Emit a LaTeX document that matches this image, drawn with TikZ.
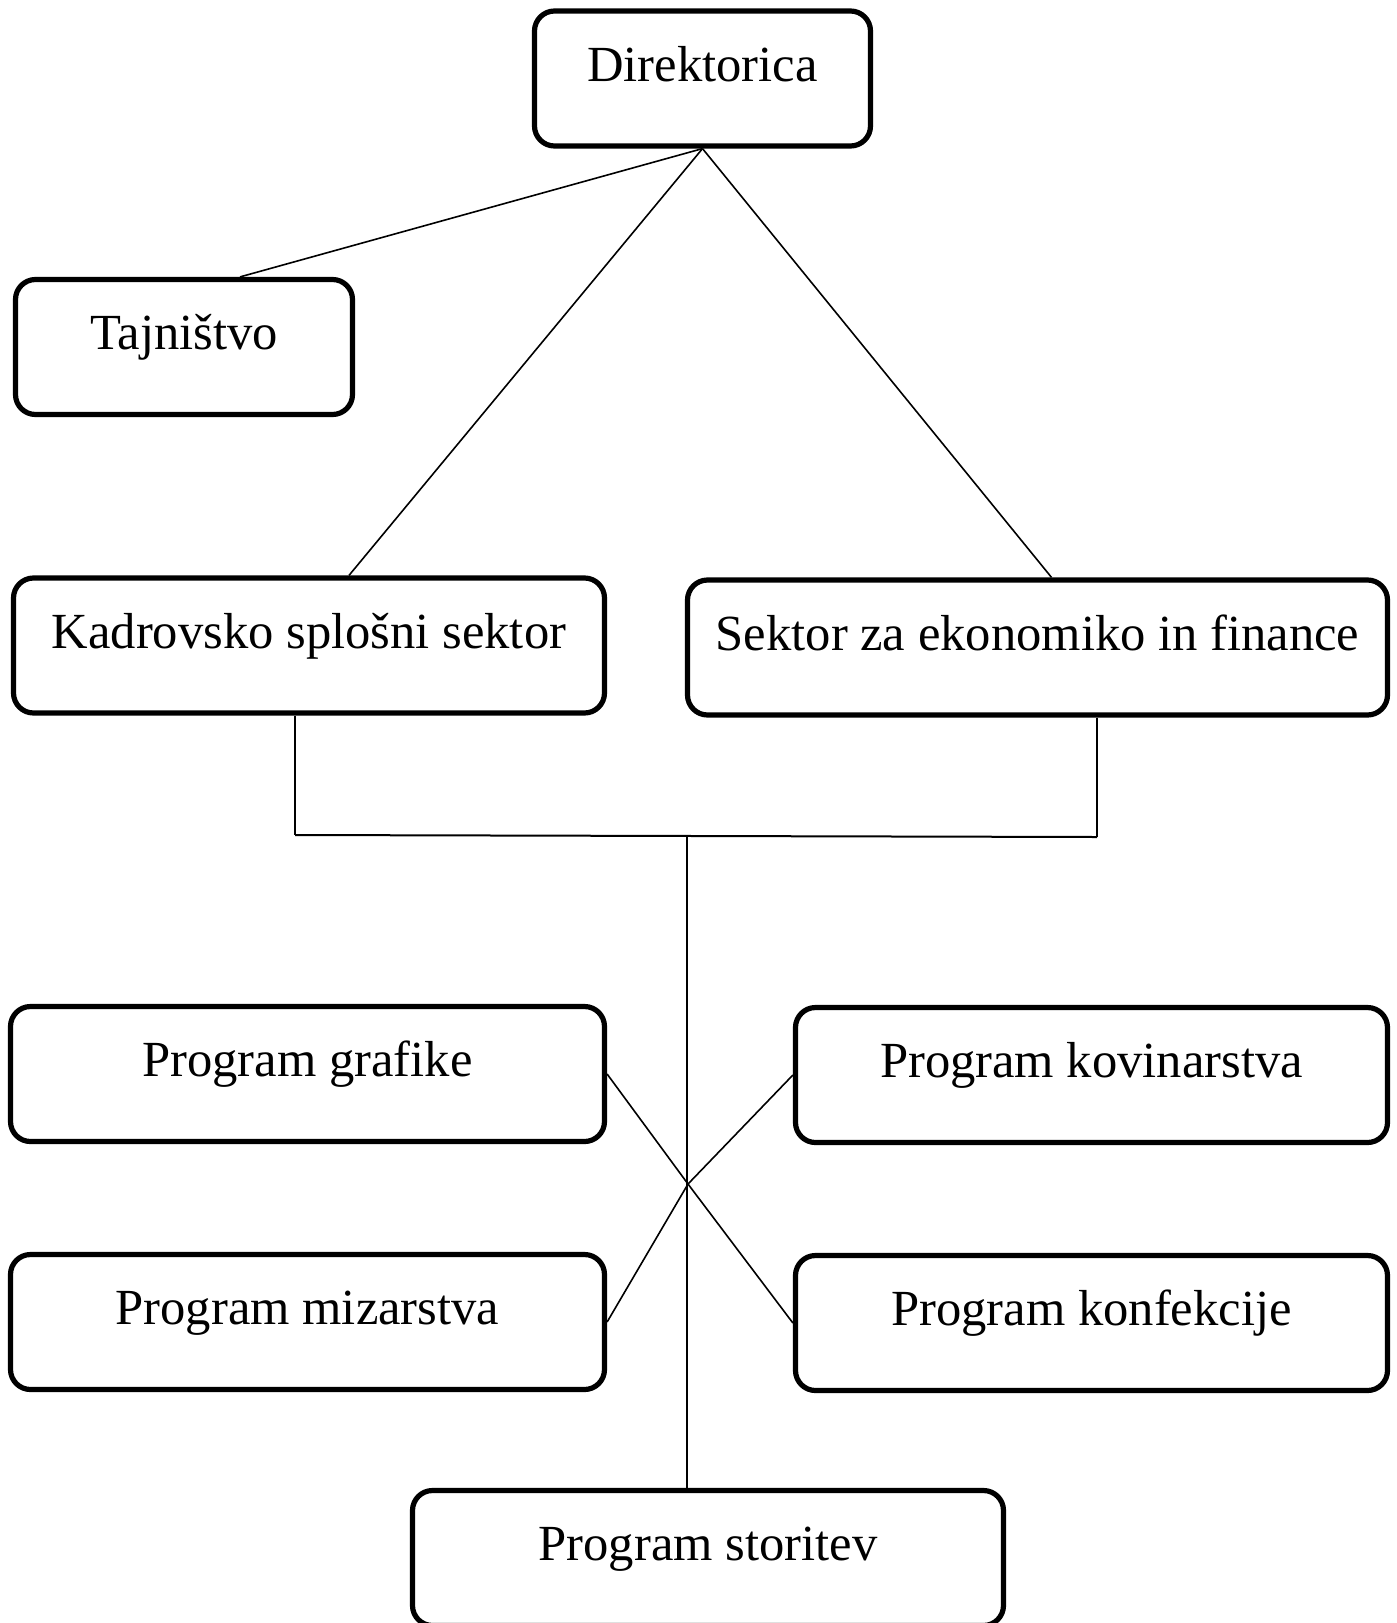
\documentclass[tikz,border=0pt]{standalone}
\usepackage{fontspec}
\setmainfont{Liberation Serif}
\begin{document}
\begin{tikzpicture}[x=.5pt,y=-.5pt,
	box/.style={draw,line width=2.6pt,rounded corners=10pt,inner xsep=0pt,inner ysep=0pt,minimum height=67.5pt,text height=35pt,text depth=32.5pt,font=\fontsize{25.3pt}{30pt}\selectfont},
	con/.style={line width=.8pt}]
	\useasboundingbox(0,0)rectangle(1397,1623);
	\node[box,minimum width=168pt](dir)at(702.5,78.5){Direktorica};
	\node[box,minimum width=168.5pt](taj)at(184,347){Tajništvo};
	\node[box,minimum width=295.5pt](kad)at(309,645.5){Kadrovsko splošni sektor};
	\node[box,minimum width=350pt](sek)at(1037.5,647.5){Sektor za ekonomiko in finance};
	\node[box,minimum width=297pt](graf)at(307.5,1074){Program grafike};
	\node[box,minimum width=297pt](miz)at(307.5,1322){Program mizarstva};
	\node[box,minimum width=296pt](kov)at(1091.5,1075){Program kovinarstva};
	\node[box,minimum width=296pt](konf)at(1091.5,1323){Program konfekcije};
	\node[box,minimum width=295.5pt](stor)at(708,1558){Program storitev};
	\coordinate(jl)at(295,835);
	\coordinate(jr)at(1097,837);
	\coordinate(jm)at(687,836);
	\coordinate(x)at(688,1184);
	\draw[con](dir.south)--([xshift=28pt]taj.north);
	\draw[con](dir.south)--([xshift=20pt]kad.north);
	\draw[con](dir.south)--([xshift=7pt]sek.north);
	\draw[con]([xshift=-7pt]kad.south)--(jl);
	\draw[con]([xshift=29.75pt]sek.south)--(jr);
	\draw[line width=1pt](jl)--(jr);
	\draw[con](jm)--([xshift=-10.5pt]stor.north);
	\draw[con](graf.east)--(x)--(konf.west);
	\draw[con](miz.east)--(x)--(kov.west);
\end{tikzpicture}
\end{document}
